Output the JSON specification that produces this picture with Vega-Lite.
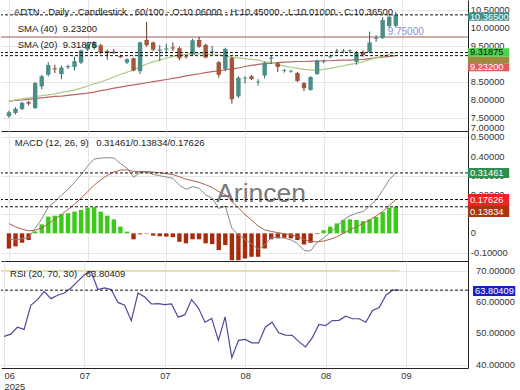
{
  "$schema": "https://vega.github.io/schema/vega-lite/v6.json",
  "padding": 0,
  "spacing": 0,
  "bounds": "flush",
  "background": "white",
  "config": {
    "font": "Liberation Sans",
    "view": {"stroke": null},
    "axis": {"gridColor": "#e6e6e6", "labelColor": "#333333", "labelFontSize": 9.3, "ticks": false, "domainColor": "#222222"}
  },
  "datasets": {
    "pt": [
      {"v":10.5,"t":"10.50000"},{"v":10.0,"t":"10.00000"},{"v":9.5,"t":"9.50000"},{"v":9.0,"t":"9.00000"},
      {"v":8.5,"t":"8.50000"},{"v":8.0,"t":"8.00000"},{"v":7.5,"t":"7.50000"}
    ],
    "mt": [
      {"v":0.5,"t":"0.50000"},{"v":0.4,"t":"0.40000"},{"v":0.3,"t":"0.30000"},{"v":0.2,"t":"0.20000"},
      {"v":0.1,"t":"0.10000"},{"v":0.0,"t":"0"},{"v":-0.1,"t":"-0.10000"}
    ],
    "rt": [
      {"v":70,"t":"70.00000"},{"v":60,"t":"60.00000"},{"v":50,"t":"50.00000"},{"v":40,"t":"40.00000"}
    ],
    "p": [
      {"i":0,"o":7.55,"h":7.7,"l":7.5,"c":7.66,"s20":7.97,"s40":7.97,"macd":-0.028,"sig":0.051,"hist":-0.079,"rsi":49.1},
      {"i":1,"o":7.64,"h":7.8,"l":7.6,"c":7.76,"s20":8.0,"s40":7.99,"macd":-0.034,"sig":0.034,"hist":-0.068,"rsi":49.8},
      {"i":2,"o":7.75,"h":7.95,"l":7.72,"c":7.92,"s20":8.03,"s40":8.0,"macd":-0.027,"sig":0.022,"hist":-0.049,"rsi":52.0},
      {"i":3,"o":7.94,"h":7.98,"l":7.85,"c":7.9,"s20":8.06,"s40":8.02,"macd":-0.022,"sig":0.013,"hist":-0.035,"rsi":51.3},
      {"i":4,"o":7.78,"h":8.5,"l":7.75,"c":8.47,"s20":8.09,"s40":8.04,"macd":0.026,"sig":0.016,"hist":0.01,"rsi":59.0},
      {"i":5,"o":8.38,"h":8.7,"l":8.3,"c":8.66,"s20":8.12,"s40":8.06,"macd":0.075,"sig":0.028,"hist":0.047,"rsi":60.8},
      {"i":6,"o":8.7,"h":9.05,"l":8.65,"c":8.97,"s20":8.14,"s40":8.08,"macd":0.137,"sig":0.05,"hist":0.087,"rsi":63.4},
      {"i":7,"o":8.88,"h":8.98,"l":8.75,"c":8.85,"s20":8.17,"s40":8.1,"macd":0.165,"sig":0.073,"hist":0.092,"rsi":61.1},
      {"i":8,"o":8.72,"h":8.96,"l":8.58,"c":8.9,"s20":8.21,"s40":8.11,"macd":0.198,"sig":0.098,"hist":0.1,"rsi":62.2},
      {"i":9,"o":8.91,"h":8.98,"l":8.86,"c":8.94,"s20":8.24,"s40":8.13,"macd":0.229,"sig":0.124,"hist":0.105,"rsi":62.9},
      {"i":10,"o":8.92,"h":9.2,"l":8.82,"c":9.08,"s20":8.28,"s40":8.15,"macd":0.265,"sig":0.152,"hist":0.113,"rsi":64.5},
      {"i":11,"o":9.04,"h":9.4,"l":9.0,"c":9.38,"s20":8.33,"s40":8.17,"macd":0.305,"sig":0.183,"hist":0.122,"rsi":66.6},
      {"i":12,"o":9.4,"h":9.6,"l":9.36,"c":9.57,"s20":8.39,"s40":8.19,"macd":0.351,"sig":0.217,"hist":0.134,"rsi":68.7},
      {"i":13,"o":9.46,"h":9.64,"l":9.4,"c":9.6,"s20":8.45,"s40":8.22,"macd":0.387,"sig":0.251,"hist":0.136,"rsi":69.8},
      {"i":14,"o":9.52,"h":9.56,"l":9.28,"c":9.32,"s20":8.5,"s40":8.26,"macd":0.392,"sig":0.279,"hist":0.113,"rsi":64.0},
      {"i":15,"o":9.36,"h":9.4,"l":9.12,"c":9.3,"s20":8.57,"s40":8.29,"macd":0.394,"sig":0.302,"hist":0.092,"rsi":64.5},
      {"i":16,"o":9.34,"h":9.42,"l":9.28,"c":9.31,"s20":8.64,"s40":8.33,"macd":0.393,"sig":0.32,"hist":0.073,"rsi":64.0},
      {"i":17,"o":9.22,"h":9.26,"l":9.17,"c":9.19,"s20":8.71,"s40":8.36,"macd":0.364,"sig":0.329,"hist":0.035,"rsi":59.9},
      {"i":18,"o":9.04,"h":9.16,"l":9.0,"c":9.13,"s20":8.77,"s40":8.39,"macd":0.34,"sig":0.331,"hist":0.009,"rsi":59.0},
      {"i":19,"o":9.16,"h":9.18,"l":8.8,"c":8.82,"s20":8.83,"s40":8.42,"macd":0.292,"sig":0.323,"hist":-0.031,"rsi":54.1},
      {"i":20,"o":8.8,"h":9.62,"l":8.72,"c":9.6,"s20":8.92,"s40":8.45,"macd":0.317,"sig":0.322,"hist":-0.005,"rsi":62.9},
      {"i":21,"o":9.67,"h":10.17,"l":9.48,"c":9.52,"s20":9.0,"s40":8.48,"macd":0.32,"sig":0.322,"hist":-0.002,"rsi":61.6},
      {"i":22,"o":9.6,"h":9.62,"l":9.36,"c":9.4,"s20":9.06,"s40":8.51,"macd":0.307,"sig":0.319,"hist":-0.012,"rsi":59.4},
      {"i":23,"o":9.37,"h":9.52,"l":9.08,"c":9.4,"s20":9.11,"s40":8.54,"macd":0.3,"sig":0.315,"hist":-0.015,"rsi":59.5},
      {"i":24,"o":9.4,"h":9.56,"l":9.3,"c":9.43,"s20":9.16,"s40":8.57,"macd":0.294,"sig":0.311,"hist":-0.017,"rsi":59.2},
      {"i":25,"o":9.46,"h":9.6,"l":9.36,"c":9.43,"s20":9.21,"s40":8.6,"macd":0.286,"sig":0.306,"hist":-0.02,"rsi":59.4},
      {"i":26,"o":9.44,"h":9.48,"l":9.1,"c":9.16,"s20":9.25,"s40":8.63,"macd":0.251,"sig":0.295,"hist":-0.044,"rsi":55.2},
      {"i":27,"o":9.21,"h":9.24,"l":9.15,"c":9.19,"s20":9.27,"s40":8.67,"macd":0.23,"sig":0.282,"hist":-0.052,"rsi":56.0},
      {"i":28,"o":9.26,"h":9.7,"l":9.22,"c":9.66,"s20":9.28,"s40":8.7,"macd":0.243,"sig":0.274,"hist":-0.031,"rsi":60.8},
      {"i":29,"o":9.67,"h":9.75,"l":9.45,"c":9.48,"s20":9.28,"s40":8.73,"macd":0.235,"sig":0.266,"hist":-0.031,"rsi":58.2},
      {"i":30,"o":9.53,"h":9.56,"l":9.16,"c":9.18,"s20":9.28,"s40":8.76,"macd":0.201,"sig":0.253,"hist":-0.052,"rsi":53.6},
      {"i":31,"o":9.33,"h":9.5,"l":9.28,"c":9.35,"s20":9.27,"s40":8.79,"macd":0.183,"sig":0.239,"hist":-0.056,"rsi":54.8},
      {"i":32,"o":9.05,"h":9.08,"l":8.62,"c":8.7,"s20":9.25,"s40":8.81,"macd":0.13,"sig":0.217,"hist":-0.087,"rsi":47.8},
      {"i":33,"o":8.86,"h":9.45,"l":8.8,"c":9.42,"s20":9.22,"s40":8.84,"macd":0.141,"sig":0.202,"hist":-0.061,"rsi":55.3},
      {"i":34,"o":9.17,"h":9.2,"l":7.9,"c":8.02,"s20":9.19,"s40":8.86,"macd":0.027,"sig":0.167,"hist":-0.14,"rsi":42.3},
      {"i":35,"o":8.1,"h":8.66,"l":8.06,"c":8.62,"s20":9.17,"s40":8.89,"macd":-0.008,"sig":0.132,"hist":-0.14,"rsi":47.8},
      {"i":36,"o":8.6,"h":8.66,"l":8.46,"c":8.62,"s20":9.15,"s40":8.93,"macd":-0.032,"sig":0.099,"hist":-0.131,"rsi":48.1},
      {"i":37,"o":8.66,"h":8.7,"l":8.55,"c":8.58,"s20":9.13,"s40":8.96,"macd":-0.053,"sig":0.069,"hist":-0.122,"rsi":47.0},
      {"i":38,"o":8.49,"h":8.58,"l":8.4,"c":8.51,"s20":9.11,"s40":8.99,"macd":-0.084,"sig":0.038,"hist":-0.122,"rsi":47.0},
      {"i":39,"o":8.68,"h":9.06,"l":8.6,"c":9.04,"s20":9.07,"s40":9.01,"macd":-0.061,"sig":0.018,"hist":-0.079,"rsi":52.0},
      {"i":40,"o":9.15,"h":9.24,"l":9.0,"c":9.18,"s20":9.03,"s40":9.02,"macd":-0.021,"sig":0.01,"hist":-0.031,"rsi":53.6},
      {"i":41,"o":9.02,"h":9.05,"l":8.78,"c":8.92,"s20":8.99,"s40":9.04,"macd":-0.022,"sig":0.004,"hist":-0.026,"rsi":50.2},
      {"i":42,"o":8.81,"h":8.86,"l":8.76,"c":8.83,"s20":8.94,"s40":9.05,"macd":-0.025,"sig":-0.002,"hist":-0.023,"rsi":49.5},
      {"i":43,"o":8.79,"h":8.84,"l":8.76,"c":8.81,"s20":8.91,"s40":9.06,"macd":-0.034,"sig":-0.008,"hist":-0.026,"rsi":49.4},
      {"i":44,"o":8.75,"h":8.78,"l":8.5,"c":8.53,"s20":8.88,"s40":9.07,"macd":-0.052,"sig":-0.017,"hist":-0.035,"rsi":47.4},
      {"i":45,"o":8.47,"h":8.5,"l":8.25,"c":8.33,"s20":8.85,"s40":9.07,"macd":-0.089,"sig":-0.031,"hist":-0.058,"rsi":45.7},
      {"i":46,"o":8.28,"h":8.66,"l":8.26,"c":8.64,"s20":8.83,"s40":9.08,"macd":-0.092,"sig":-0.043,"hist":-0.049,"rsi":48.6},
      {"i":47,"o":8.72,"h":9.12,"l":8.7,"c":9.1,"s20":8.83,"s40":9.08,"macd":-0.047,"sig":-0.044,"hist":-0.003,"rsi":52.9},
      {"i":48,"o":9.07,"h":9.12,"l":9.02,"c":9.09,"s20":8.85,"s40":9.09,"macd":-0.024,"sig":-0.04,"hist":0.016,"rsi":52.5},
      {"i":49,"o":9.19,"h":9.26,"l":9.16,"c":9.21,"s20":8.88,"s40":9.09,"macd":0.004,"sig":-0.031,"hist":0.035,"rsi":54.1},
      {"i":50,"o":9.35,"h":9.42,"l":9.3,"c":9.37,"s20":8.92,"s40":9.1,"macd":0.034,"sig":-0.018,"hist":0.052,"rsi":54.2},
      {"i":51,"o":9.35,"h":9.42,"l":9.3,"c":9.37,"s20":8.95,"s40":9.11,"macd":0.07,"sig":0.0,"hist":0.07,"rsi":55.5},
      {"i":52,"o":9.36,"h":9.4,"l":9.3,"c":9.38,"s20":8.99,"s40":9.11,"macd":0.091,"sig":0.018,"hist":0.073,"rsi":54.7},
      {"i":53,"o":9.06,"h":9.36,"l":8.98,"c":9.32,"s20":9.02,"s40":9.12,"macd":0.105,"sig":0.035,"hist":0.07,"rsi":54.7},
      {"i":54,"o":9.33,"h":9.38,"l":9.2,"c":9.25,"s20":9.06,"s40":9.13,"macd":0.114,"sig":0.051,"hist":0.063,"rsi":53.6},
      {"i":55,"o":9.33,"h":9.9,"l":9.3,"c":9.6,"s20":9.12,"s40":9.15,"macd":0.142,"sig":0.069,"hist":0.073,"rsi":57.3},
      {"i":56,"o":9.7,"h":9.8,"l":9.62,"c":9.73,"s20":9.17,"s40":9.17,"macd":0.175,"sig":0.09,"hist":0.085,"rsi":58.3},
      {"i":57,"o":9.72,"h":10.3,"l":9.7,"c":10.22,"s20":9.22,"s40":9.19,"macd":0.224,"sig":0.114,"hist":0.11,"rsi":62.2},
      {"i":58,"o":10.05,"h":10.4,"l":10.0,"c":10.31,"s20":9.27,"s40":9.21,"macd":0.279,"sig":0.145,"hist":0.134,"rsi":63.8},
      {"i":59,"o":10.06,"h":10.45,"l":10.01,"c":10.365,"s20":9.31875,"s40":9.232,"macd":0.31461,"sig":0.17626,"hist":0.13834,"rsi":63.80409}
    ]
  },
  "vconcat": [
    {
      "width": 467,
      "height": 131,
      "data": {"name": "p"},
      "layer": [
        {
          "transform": [{"filter": "datum.i == 59"}],
          "mark": {"type": "rule", "color": "#9e5b55", "strokeWidth": 1},
          "encoding": {"y": {"datum": 9.75, "type": "quantitative"}}
        },
        {
          "mark": {"type": "line", "color": "#b56a68", "strokeWidth": 1.2},
          "encoding": {
            "x": {"field": "i", "type": "quantitative", "scale": {"domain": [-0.448, 69.25], "nice": false, "zero": false},
                  "axis": {"values": [0, 12, 24, 36, 48, 60], "labels": false, "ticks": false, "grid": true, "domain": true, "title": null}},
            "y": {"field": "s40", "type": "quantitative", "scale": {"domain": [7.139, 10.778], "nice": false, "zero": false},
                  "axis": {"orient": "right", "values": [7.5, 8, 8.5, 9, 9.5, 10, 10.5], "labels": false, "grid": true, "domain": true, "title": null}}
          }
        },
        {
          "mark": {"type": "line", "color": "#a9cc82", "strokeWidth": 1.2},
          "encoding": {"x": {"field": "i", "type": "quantitative"}, "y": {"field": "s20", "type": "quantitative"}}
        },
        {
          "mark": {"type": "rule", "strokeWidth": 1},
          "encoding": {
            "x": {"field": "i", "type": "quantitative"},
            "y": {"field": "l", "type": "quantitative"},
            "y2": {"field": "h"},
            "color": {"condition": {"test": "datum.c >= datum.o", "value": "#2f5f5b"}, "value": "#5e3424"}
          }
        },
        {
          "mark": {"type": "bar", "size": 4.4},
          "encoding": {
            "x": {"field": "i", "type": "quantitative"},
            "y": {"field": "o", "type": "quantitative"},
            "y2": {"field": "c"},
            "color": {"condition": {"test": "datum.c >= datum.o", "value": "#4b8d88"}, "value": "#a5553a"}
          }
        },
        {
          "data": {"name": "pt"},
          "mark": {"type": "text", "align": "left", "baseline": "middle", "color": "#333333", "fontSize": 9.3},
          "encoding": {"x": {"datum": 70.45, "type": "quantitative"}, "y": {"field": "v", "type": "quantitative"}, "text": {"field": "t"}}
        },
        {
          "transform": [{"filter": "datum.i == 59"}],
          "mark": {"type": "text", "align": "left", "baseline": "middle", "color": "#333333", "fontSize": 9.3},
          "encoding": {"x": {"datum": 70.45, "type": "quantitative"}, "y": {"datum": 7.225, "type": "quantitative"}, "text": {"value": "7.00000"}}
        },
        {
          "transform": [{"filter": "datum.i == 59"}],
          "mark": {"type": "rule", "color": "#111111", "strokeDash": [3, 2], "strokeWidth": 1},
          "encoding": {"y": {"field": "c", "type": "quantitative"}}
        },
        {
          "transform": [{"filter": "datum.i == 59"}],
          "mark": {"type": "rule", "color": "#111111", "strokeDash": [3, 2], "strokeWidth": 1},
          "encoding": {"y": {"field": "s20", "type": "quantitative"}}
        },
        {
          "transform": [{"filter": "datum.i == 59"}],
          "mark": {"type": "rule", "color": "#111111", "strokeDash": [3, 2], "strokeWidth": 1},
          "encoding": {"y": {"field": "s40", "type": "quantitative"}}
        },
        {
          "transform": [{"filter": "datum.i == 59"}],
          "mark": {"type": "rect", "color": "#3e8e88"},
          "encoding": {"x": {"datum": 70.0, "type": "quantitative"}, "x2": {"datum": 76.3}, "y": {"datum": 10.2, "type": "quantitative"}, "y2": {"datum": 10.43}}
        },
        {
          "transform": [{"filter": "datum.i == 59"}],
          "mark": {"type": "rect", "color": "#4cd24c"},
          "encoding": {"x": {"datum": 70.0, "type": "quantitative"}, "x2": {"datum": 76.3}, "y": {"datum": 9.2, "type": "quantitative"}, "y2": {"datum": 9.44}}
        },
        {
          "transform": [{"filter": "datum.i == 59"}],
          "mark": {"type": "rect", "color": "#a08b3c"},
          "encoding": {"x": {"datum": 70.0, "type": "quantitative"}, "x2": {"datum": 76.3}, "y": {"datum": 9.02, "type": "quantitative"}, "y2": {"datum": 9.2}}
        },
        {
          "transform": [{"filter": "datum.i == 59"}],
          "mark": {"type": "rect", "color": "#e35a5a"},
          "encoding": {"x": {"datum": 70.0, "type": "quantitative"}, "x2": {"datum": 76.3}, "y": {"datum": 8.8, "type": "quantitative"}, "y2": {"datum": 9.02}}
        },
        {
          "transform": [{"filter": "datum.i == 59"}],
          "mark": {"type": "text", "align": "left", "baseline": "middle", "color": "white", "fontSize": 9.3},
          "encoding": {"x": {"datum": 70.3, "type": "quantitative"}, "y": {"datum": 10.315, "type": "quantitative"}, "text": {"field": "c", "type": "quantitative", "format": ".5f"}}
        },
        {
          "transform": [{"filter": "datum.i == 59"}],
          "mark": {"type": "text", "align": "left", "baseline": "middle", "color": "#111111", "fontSize": 9.3},
          "encoding": {"x": {"datum": 70.3, "type": "quantitative"}, "y": {"datum": 9.32, "type": "quantitative"}, "text": {"field": "s20", "type": "quantitative", "format": ".5f"}}
        },
        {
          "transform": [{"filter": "datum.i == 59"}],
          "mark": {"type": "text", "align": "left", "baseline": "middle", "color": "white", "fontSize": 9.3},
          "encoding": {"x": {"datum": 70.3, "type": "quantitative"}, "y": {"datum": 8.91, "type": "quantitative"}, "text": {"field": "s40", "type": "quantitative", "format": ".5f"}}
        },
        {
          "transform": [{"filter": "datum.i == 59"}],
          "mark": {"type": "text", "align": "left", "baseline": "middle", "color": "#8c8cdc", "fontSize": 10},
          "encoding": {"x": {"datum": 57.76, "type": "quantitative"}, "y": {"datum": 9.889, "type": "quantitative"}, "text": {"value": "9.75000"}}
        },
        {
          "transform": [{"filter": "datum.i == 59"}],
          "mark": {"type": "text", "align": "left", "baseline": "middle", "color": "#222222", "fontSize": 9.5},
          "encoding": {"x": {"datum": 0.75, "type": "quantitative"}, "y": {"datum": 10.444, "type": "quantitative"}, "text": {"value": "ADTN - Daily - Candlestick . 60/100 - O:10.06000 - H:10.45000 - L:10.01000 - C:10.36500"}}
        },
        {
          "transform": [{"filter": "datum.i == 59"}],
          "mark": {"type": "text", "align": "left", "baseline": "middle", "color": "#222222", "fontSize": 9.5},
          "encoding": {"x": {"datum": 1.34, "type": "quantitative"}, "y": {"datum": 9.964, "type": "quantitative"}, "text": {"value": "SMA (40)"}}
        },
        {
          "transform": [{"filter": "datum.i == 59"}],
          "mark": {"type": "text", "align": "left", "baseline": "middle", "color": "#222222", "fontSize": 9.5},
          "encoding": {"x": {"datum": 8.2, "type": "quantitative"}, "y": {"datum": 9.964, "type": "quantitative"}, "text": {"field": "s40", "type": "quantitative", "format": ".5f"}}
        },
        {
          "transform": [{"filter": "datum.i == 59"}],
          "mark": {"type": "text", "align": "left", "baseline": "middle", "color": "#222222", "fontSize": 9.5},
          "encoding": {"x": {"datum": 1.34, "type": "quantitative"}, "y": {"datum": 9.528, "type": "quantitative"}, "text": {"value": "SMA (20)"}}
        },
        {
          "transform": [{"filter": "datum.i == 59"}],
          "mark": {"type": "text", "align": "left", "baseline": "middle", "color": "#222222", "fontSize": 9.5},
          "encoding": {"x": {"datum": 8.2, "type": "quantitative"}, "y": {"datum": 9.528, "type": "quantitative"}, "text": {"field": "s20", "type": "quantitative", "format": ".5f"}}
        }
      ]
    },
    {
      "width": 467,
      "height": 130,
      "data": {"name": "p"},
      "layer": [
        {
          "transform": [{"filter": "datum.i == 59"}],
          "mark": {"type": "text", "align": "left", "baseline": "alphabetic", "color": "#7a7a7a", "fontSize": 26.5},
          "encoding": {"x": {"datum": 31.6, "type": "quantitative"}, "y": {"datum": 0.162, "type": "quantitative"}, "text": {"value": "Arincen"}}
        },
        {
          "mark": {"type": "bar", "size": 4.4},
          "encoding": {
            "x": {"field": "i", "type": "quantitative", "scale": {"domain": [-0.448, 69.25], "nice": false, "zero": false},
                  "axis": {"values": [0, 12, 24, 36, 48, 60], "labels": false, "ticks": false, "grid": true, "domain": true, "title": null}},
            "y": {"field": "hist", "type": "quantitative", "scale": {"domain": [-0.144, 0.533], "nice": false, "zero": false},
                  "axis": {"orient": "right", "values": [-0.1, 0, 0.1, 0.2, 0.3, 0.4, 0.5], "labels": false, "grid": true, "domain": true, "title": null}},
            "y2": {"datum": 0},
            "color": {"condition": {"test": "datum.hist >= 0", "value": "#3acb18"}, "value": "#a92b0c"}
          }
        },
        {
          "mark": {"type": "line", "color": "#a8644e", "strokeWidth": 1},
          "encoding": {"x": {"field": "i", "type": "quantitative"}, "y": {"field": "sig", "type": "quantitative"}}
        },
        {
          "mark": {"type": "line", "color": "#888888", "strokeWidth": 1},
          "encoding": {"x": {"field": "i", "type": "quantitative"}, "y": {"field": "macd", "type": "quantitative"}}
        },
        {
          "data": {"name": "mt"},
          "mark": {"type": "text", "align": "left", "baseline": "middle", "color": "#333333", "fontSize": 9.3},
          "encoding": {"x": {"datum": 70.45, "type": "quantitative"}, "y": {"field": "v", "type": "quantitative"}, "text": {"field": "t"}}
        },
        {
          "transform": [{"filter": "datum.i == 59"}],
          "mark": {"type": "rule", "color": "#111111", "strokeDash": [3, 2], "strokeWidth": 1},
          "encoding": {"y": {"field": "macd", "type": "quantitative"}}
        },
        {
          "transform": [{"filter": "datum.i == 59"}],
          "mark": {"type": "rule", "color": "#111111", "strokeDash": [3, 2], "strokeWidth": 1},
          "encoding": {"y": {"field": "sig", "type": "quantitative"}}
        },
        {
          "transform": [{"filter": "datum.i == 59"}],
          "mark": {"type": "rule", "color": "#111111", "strokeDash": [3, 2], "strokeWidth": 1},
          "encoding": {"y": {"field": "hist", "type": "quantitative"}}
        },
        {
          "transform": [{"filter": "datum.i == 59"}],
          "mark": {"type": "rect", "color": "#2f8f4f"},
          "encoding": {"x": {"datum": 70.0, "type": "quantitative"}, "x2": {"datum": 76.3}, "y": {"datum": 0.288, "type": "quantitative"}, "y2": {"datum": 0.34}}
        },
        {
          "transform": [{"filter": "datum.i == 59"}],
          "mark": {"type": "rect", "color": "#ee2222"},
          "encoding": {"x": {"datum": 70.0, "type": "quantitative"}, "x2": {"datum": 76.3}, "y": {"datum": 0.1422, "type": "quantitative"}, "y2": {"datum": 0.2047}}
        },
        {
          "transform": [{"filter": "datum.i == 59"}],
          "mark": {"type": "rect", "color": "#a8350f"},
          "encoding": {"x": {"datum": 70.0, "type": "quantitative"}, "x2": {"datum": 76.3}, "y": {"datum": 0.0849, "type": "quantitative"}, "y2": {"datum": 0.1422}}
        },
        {
          "transform": [{"filter": "datum.i == 59"}],
          "mark": {"type": "text", "align": "left", "baseline": "middle", "color": "white", "fontSize": 9.3},
          "encoding": {"x": {"datum": 70.3, "type": "quantitative"}, "y": {"datum": 0.314, "type": "quantitative"}, "text": {"field": "macd", "type": "quantitative", "format": ".5f"}}
        },
        {
          "transform": [{"filter": "datum.i == 59"}],
          "mark": {"type": "text", "align": "left", "baseline": "middle", "color": "white", "fontSize": 9.3},
          "encoding": {"x": {"datum": 70.3, "type": "quantitative"}, "y": {"datum": 0.1735, "type": "quantitative"}, "text": {"field": "sig", "type": "quantitative", "format": ".5f"}}
        },
        {
          "transform": [{"filter": "datum.i == 59"}],
          "mark": {"type": "text", "align": "left", "baseline": "middle", "color": "white", "fontSize": 9.3},
          "encoding": {"x": {"datum": 70.3, "type": "quantitative"}, "y": {"datum": 0.1135, "type": "quantitative"}, "text": {"field": "hist", "type": "quantitative", "format": ".5f"}}
        },
        {
          "transform": [{"filter": "datum.i == 59"}],
          "mark": {"type": "text", "align": "left", "baseline": "middle", "color": "#222222", "fontSize": 9.5},
          "encoding": {"x": {"datum": 0.9, "type": "quantitative"}, "y": {"datum": 0.47, "type": "quantitative"}, "text": {"value": "MACD (12, 26, 9)"}}
        },
        {
          "transform": [{"filter": "datum.i == 59"}],
          "mark": {"type": "text", "align": "left", "baseline": "middle", "color": "#222222", "fontSize": 9.5},
          "encoding": {"x": {"datum": 13.3, "type": "quantitative"}, "y": {"datum": 0.47, "type": "quantitative"}, "text": {"value": "0.31461/0.13834/0.17626"}}
        }
      ]
    },
    {
      "width": 467,
      "height": 107,
      "data": {"name": "p"},
      "layer": [
        {
          "transform": [{"filter": "datum.i == 59"}],
          "mark": {"type": "rule", "color": "#e0df9c", "strokeWidth": 1.5},
          "encoding": {"x": {"datum": -0.448, "type": "quantitative"}, "x2": {"datum": 59}, "y": {"datum": 70, "type": "quantitative"}}
        },
        {
          "mark": {"type": "line", "color": "#4c4c9c", "strokeWidth": 1.2},
          "encoding": {
            "x": {"field": "i", "type": "quantitative", "scale": {"domain": [-0.448, 69.25], "nice": false, "zero": false},
                  "axis": {"values": [0, 12, 24, 36, 48, 60], "ticks": false, "grid": true, "domain": true, "title": null,
                           "labelExpr": "datum.value == 0 ? ['06', '2025'] : (datum.value <= 24 ? '07' : (datum.value <= 48 ? '08' : '09'))",
                           "labelFlush": 6, "labelPadding": 3, "labelLineHeight": 11}},
            "y": {"field": "rsi", "type": "quantitative", "scale": {"domain": [39.0, 73.1], "nice": false, "zero": false},
                  "axis": {"orient": "right", "values": [40, 50, 60, 70], "labels": false, "grid": true, "domain": true, "title": null}}
          }
        },
        {
          "data": {"name": "rt"},
          "mark": {"type": "text", "align": "left", "baseline": "middle", "color": "#333333", "fontSize": 9.3},
          "encoding": {"x": {"datum": 70.45, "type": "quantitative"}, "y": {"field": "v", "type": "quantitative"}, "text": {"field": "t"}}
        },
        {
          "transform": [{"filter": "datum.i == 59"}],
          "mark": {"type": "rule", "color": "#111111", "strokeDash": [3, 2], "strokeWidth": 1},
          "encoding": {"y": {"field": "rsi", "type": "quantitative"}}
        },
        {
          "transform": [{"filter": "datum.i == 59"}],
          "mark": {"type": "rect", "color": "#1c1cc8"},
          "encoding": {"x": {"datum": 70.0, "type": "quantitative"}, "x2": {"datum": 76.3}, "y": {"datum": 61.94, "type": "quantitative"}, "y2": {"datum": 65.13}}
        },
        {
          "transform": [{"filter": "datum.i == 59"}],
          "mark": {"type": "text", "align": "left", "baseline": "middle", "color": "white", "fontSize": 9.3},
          "encoding": {"x": {"datum": 70.3, "type": "quantitative"}, "y": {"datum": 63.5, "type": "quantitative"}, "text": {"field": "rsi", "type": "quantitative", "format": ".5f"}}
        },
        {
          "transform": [{"filter": "datum.i == 59"}],
          "mark": {"type": "text", "align": "left", "baseline": "middle", "color": "#222222", "fontSize": 9.5},
          "encoding": {"x": {"datum": 0.9, "type": "quantitative"}, "y": {"datum": 68.95, "type": "quantitative"}, "text": {"value": "RSI (20, 70, 30)"}}
        },
        {
          "transform": [{"filter": "datum.i == 59"}],
          "mark": {"type": "text", "align": "left", "baseline": "middle", "color": "#222222", "fontSize": 9.5},
          "encoding": {"x": {"datum": 12.2, "type": "quantitative"}, "y": {"datum": 68.95, "type": "quantitative"}, "text": {"field": "rsi", "type": "quantitative", "format": ".5f"}}
        }
      ]
    }
  ]
}
